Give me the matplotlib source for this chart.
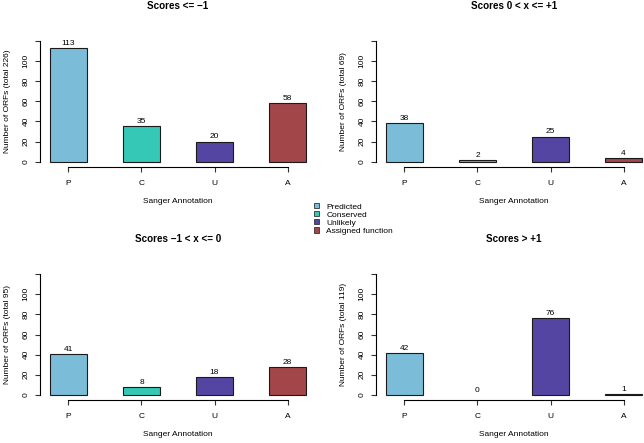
import matplotlib
matplotlib.use("Agg")
import matplotlib.pyplot as plt
from matplotlib.patches import Patch

plt.rcParams['font.family'] = ['Liberation Sans', 'DejaVu Sans']

categories = ["P", "C", "U", "A"]
legend_labels = ["Predicted", "Conserved", "Unlikely", "Assigned function"]
colors = ["#7bbdd8", "#35c8b6", "#5545a2", "#a2464a"]

titles = ["Scores <= \u22121", "Scores 0 < x <= +1", "Scores \u22121 < x <= 0", "Scores > +1"]
totals = [226, 69, 95, 119]
values_le_m1 = [113, 35, 20, 58]
values_0_p1 = [38, 2, 25, 4]
values_m1_0 = [41, 8, 18, 28]
values_gt_p1 = [42, 0, 76, 1]
all_values = [values_le_m1, values_0_p1, values_m1_0, values_gt_p1]
yticks = [0, 20, 40, 60, 80, 100, 120]
ytick_labels = ["0", "20", "40", "60", "80", "100", ""]

W, H = 644, 443
fig = plt.figure(figsize=(W / 100, H / 100), dpi=100)

def px_axes(left, top, right, bottom):
    return fig.add_axes([left / W, 1 - bottom / H, (right - left) / W, (bottom - top) / H])

boxes = [(40, 36.2, 316, 166.5), (376, 36.2, 652, 166.5),
         (40, 269.2, 316, 399.8), (376, 269.2, 652, 399.8)]

fs = 6
for box, title, total, vals in zip(boxes, titles, totals, all_values):
    ax = px_axes(*box)
    x = list(range(len(categories)))
    lws = [0.8 if v > 0 else 0 for v in vals]
    ax.bar(x, vals, width=0.5, color=colors, edgecolor="#1a1a1a", linewidth=lws)
    for xi, v in zip(x, vals):
        ax.annotate(str(v), (xi, v), xytext=(0, 0.8), textcoords="offset points",
                    ha="center", va="bottom", fontsize=fs)
    ax.set_xlim(-0.39, 3.39)
    ax.set_ylim(-4.8, 124.8)
    for s in ["top", "right"]:
        ax.spines[s].set_visible(False)
    ax.spines["left"].set_bounds(0, 120)
    ax.spines["bottom"].set_bounds(0, 3)
    ax.spines["left"].set_linewidth(0.8)
    ax.spines["bottom"].set_linewidth(0.8)
    ax.set_xticks(x)
    ax.set_xticklabels(categories, fontsize=fs)
    ax.set_yticks(yticks)
    ax.set_yticklabels(ytick_labels, fontsize=fs, rotation=90, va="center")
    ax.tick_params(axis="both", length=3.5, width=0.8, color="#333333")
    ax.tick_params(axis="y", pad=4)
    ax.tick_params(axis="x", pad=6)
    ax.set_xlabel("Sanger Annotation", fontsize=fs)
    ax.xaxis.set_label_coords(0.5, -0.242)
    ax.set_ylabel(f"Number of ORFs (total {total})", fontsize=fs)
    ax.yaxis.set_label_coords(-0.105, 0.5)
    ax.set_title(title, fontsize=7.1, fontweight="bold", pad=19.5)

handles = [Patch(facecolor=c, edgecolor="#333333", linewidth=0.6) for c in colors]
fig.legend(handles, legend_labels, loc="upper left", bbox_to_anchor=(314 / W, 1 - 203 / H),
           frameon=False, fontsize=fs, handlelength=0.6, handleheight=0.6,
           labelspacing=0.06, handletextpad=0.9, borderaxespad=0, borderpad=0)

fig.savefig("out.png", dpi=100)
